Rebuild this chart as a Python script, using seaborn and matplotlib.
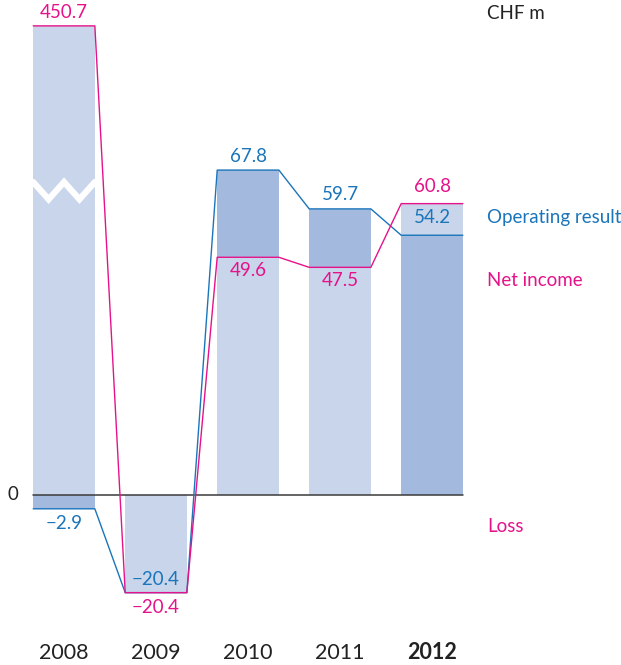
import matplotlib
matplotlib.use("Agg")
import matplotlib.pyplot as plt
import seaborn as sns
import pandas as pd
import numpy as np

# ---- data ----
years = ["2008", "2009", "2010", "2011", "2012"]
operating_result = [-2.9, -20.4, 67.8, 59.7, 54.2]
net_income = [450.7, -20.4, 49.6, 47.5, 60.8]
net_income_labels = ["450.7", "\u221220.4", "49.6", "47.5", "60.8"]
operating_labels = ["\u22122.9", "\u221220.4", "67.8", "59.7", "54.2"]

# axis break: 2008 net income is drawn truncated
BREAK_DISPLAY = 97.9

sns.set_theme(style="white")
plt.rcParams['font.family'] = ['Lato', 'DejaVu Sans']

BLUE = "#1a75bb"
PINK = "#e5138a"
DARK = "#a3b9de"
LIGHT = "#c8d5eb"
W = 0.67

fig = plt.figure(figsize=(6.21, 6.65), dpi=100)
ax = fig.add_axes([0, 0, 1, 1])

net_disp = [min(v, BREAK_DISPLAY) for v in net_income]

# back layer = larger absolute value, front = smaller (ties: net income in front)
back_vals, back_ser, front_vals, front_ser = [], [], [], []
for o, n in zip(operating_result, net_disp):
    if abs(o) > abs(n):
        back_vals.append(o); back_ser.append("op")
        front_vals.append(n); front_ser.append("net")
    else:
        back_vals.append(n); back_ser.append("net")
        front_vals.append(o); front_ser.append("op")
    if o == n:
        back_ser[-1] = "op"; front_ser[-1] = "net"

pal = {"op": DARK, "net": LIGHT}
df_back = pd.DataFrame({"year": years, "val": back_vals, "ser": back_ser})
df_front = pd.DataFrame({"year": years, "val": front_vals, "ser": front_ser})
sns.barplot(data=df_back, x="year", y="val", hue="ser", palette=pal, dodge=False,
            width=W, legend=False, ax=ax, saturation=1, linewidth=0, order=years)
sns.barplot(data=df_front, x="year", y="val", hue="ser", palette=pal, dodge=False,
            width=W, legend=False, ax=ax, saturation=1, linewidth=0, order=years)

# axis limits mapping
ax.set_xlim(-0.696, 6.054)
ax.set_ylim(-35.5, 103.3)
ax.axis("off")

# zero line
ax.plot([-W / 2, 4 + W / 2], [0, 0], color="#3a3a3a", lw=1.1, zorder=5)

# step lines
def step(vals):
    xs, ys = [], []
    for i, v in enumerate(vals):
        xs += [i - W / 2, i + W / 2]
        ys += [v, v]
    return xs, ys

xs, ys = step(operating_result)
ax.plot(xs, ys, color=BLUE, lw=1.0, zorder=6)
xs, ys = step(net_disp)
ax.plot(xs, ys, color=PINK, lw=1.0, zorder=6)

# break zigzag on 2008 bar
zx = [0 - W / 2, -W / 4, 0, W / 4, W / 2]
zy = [65.3, 61.7, 65.3, 61.7, 65.3]
ax.plot(zx, zy, color="white", lw=4.5, zorder=4, solid_joinstyle="miter")

fs = 13.5
# value labels
ax.text(0, 100.7, net_income_labels[0], color=PINK, ha="center", va="center", fontsize=fs)
ax.text(0, -5.9, operating_labels[0], color=BLUE, ha="center", va="center", fontsize=fs)
ax.text(1, -17.6, operating_labels[1], color=BLUE, ha="center", va="center", fontsize=fs)
ax.text(1, -23.5, net_income_labels[1], color=PINK, ha="center", va="center", fontsize=fs)
ax.text(2, 70.6, operating_labels[2], color=BLUE, ha="center", va="center", fontsize=fs)
ax.text(2, 46.8, net_income_labels[2], color=PINK, ha="center", va="center", fontsize=fs)
ax.text(3, 62.6, operating_labels[3], color=BLUE, ha="center", va="center", fontsize=fs)
ax.text(3, 44.7, net_income_labels[3], color=PINK, ha="center", va="center", fontsize=fs)
ax.text(4, 64.3, net_income_labels[4], color=PINK, ha="center", va="center", fontsize=fs)
ax.text(4, 57.8, operating_labels[4], color=BLUE, ha="center", va="center", fontsize=fs)

# year labels
for i, y in enumerate(years):
    ax.text(i, -32.9, y, color="#222222", ha="center", va="center", fontsize=15.5,
            fontweight="bold" if y == "2012" else "normal")

# right-side labels
xr = 4.60
rfs = 13.5
ax.text(xr, 100.4, "CHF m", color="#222222", ha="left", va="center", fontsize=rfs)
ax.text(xr, 58.0, "Operating result", color=BLUE, ha="left", va="center", fontsize=rfs)
ax.text(xr, 44.7, "Net income", color=PINK, ha="left", va="center", fontsize=rfs)
ax.text(xr, -6.5, "Loss", color=PINK, ha="left", va="center", fontsize=rfs)
ax.text(-0.56, 0, "0", color="#222222", ha="center", va="center", fontsize=rfs)

fig.savefig("out.png", dpi=100)
